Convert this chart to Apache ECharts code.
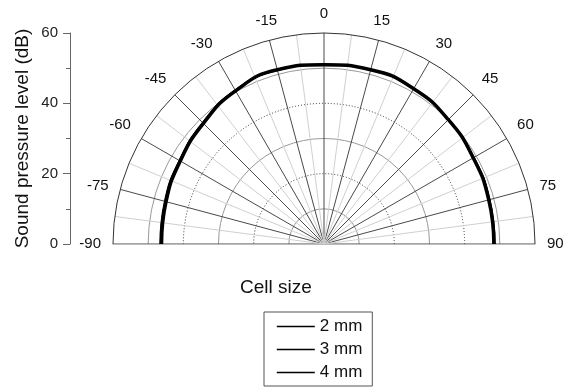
<!DOCTYPE html>
<html>
<head>
<meta charset="utf-8">
<script src="https://cdn.jsdelivr.net/npm/echarts@6/dist/echarts.min.js"></script>
<style>html,body{margin:0;padding:0;background:#fff}#c{width:566px;height:387px}</style>
</head>
<body>
<div id="c"></div>
<script>
var angles = [-90, -75, -60, -45, -30, -15, 0, 15, 30, 45, 60, 75, 90];
var angleTicks = ['-90','-75','-60','-45','-30','-15','0','15','30','45','60','75','90'];
var yTicks = [0, 20, 40, 60];
var seriesNames = ['2 mm', '3 mm', '4 mm'];
var spl2mm = [46.6, 46.9, 47.5, 48.8, 50.5, 51.2, 51.0, 51.2, 50.9, 50.1, 49.2, 48.8, 48.6];
var spl3mm = [46.4, 46.7, 47.3, 48.6, 50.4, 51.2, 51.0, 51.3, 51.0, 50.0, 49.1, 48.6, 48.4];
var spl4mm = [46.2, 46.5, 47.2, 48.5, 50.3, 51.3, 51.0, 51.3, 51.0, 50.0, 49.0, 48.5, 48.3];

function pairs(vals) { return vals.map(function (v, i) { return [v, angles[i]]; }); }

var FONT = 'Liberation Sans';
var chart = echarts.init(document.getElementById('c'), null, {renderer: 'canvas'});
var T = 'rgba(0,0,0,0)';
chart.setOption({
  animation: false,
  backgroundColor: '#fff',
  textStyle: {fontFamily: FONT},
  title: {text: 'Cell size', left: 240, top: 278, padding: 0, textStyle: {fontFamily: FONT, fontSize: 19, fontWeight: 'normal', color: '#111'}},
  legend: {
    orient: 'vertical', left: 264, top: 312,
    borderColor: '#555', borderWidth: 1, padding: [6, 10, 5, 12],
    itemWidth: 38, itemHeight: 14, itemGap: 6,
    itemStyle: {opacity: 0, color: T, borderWidth: 0},
    lineStyle: {width: 1.6, color: '#000'},
    textStyle: {fontFamily: FONT, fontSize: 17, lineHeight: 17, color: '#111'},
    data: seriesNames
  },
  grid: {left: 70, top: 33, width: 10, height: 211},
  xAxis: {type: 'value', show: false},
  yAxis: {
    type: 'value', min: yTicks[0], max: yTicks[yTicks.length - 1], interval: 20,
    name: 'Sound pressure level (dB)', nameLocation: 'middle', nameGap: 38,
    nameTextStyle: {fontFamily: FONT, fontSize: 19, color: '#111'},
    axisLine: {show: true, lineStyle: {color: '#666'}},
    axisTick: {show: true, length: 7, lineStyle: {color: '#666'}},
    minorTick: {show: true, splitNumber: 2, length: 4, lineStyle: {color: '#666'}},
    splitLine: {show: false},
    axisLabel: {fontFamily: FONT, fontSize: 15, color: '#222', margin: 12}
  },
  polar: [
    {center: [324, 244], radius: 211},
    {center: [324, 244], radius: 211}
  ],
  angleAxis: [
    {
      polarIndex: 0, type: 'value', min: -90, max: 90, interval: 15,
      startAngle: 180, endAngle: 0, clockwise: true,
      axisLine: {show: true, lineStyle: {color: '#333', width: 1}},
      axisTick: {show: false},
      minorTick: {show: false, splitNumber: 2},
      axisLabel: {show: true, margin: 12, fontFamily: FONT, fontSize: 15, color: '#111',
        formatter: function (v) { var i = angles.indexOf(v); return i >= 0 ? angleTicks[i] : ''; }},
      splitLine: {show: true, lineStyle: {color: '#4a4a4a', width: 1}},
      minorSplitLine: {show: true, lineStyle: {color: '#d0d0d0', width: 1}}
    },
    {
      polarIndex: 1, type: 'value', min: -90, max: 90, interval: 15,
      startAngle: 0, endAngle: 180, clockwise: false,
      axisLine: {show: false}, axisTick: {show: false}, axisLabel: {show: false},
      splitLine: {show: false}
    }
  ],
  radiusAxis: [
    {
      polarIndex: 0, type: 'value', min: 0, max: 60, interval: 10,
      axisLine: {show: true, lineStyle: {color: '#bbb'}},
      axisTick: {show: false}, axisLabel: {show: false},
      splitLine: {show: true, lineStyle: {color: [T, '#999', T, '#999', T, '#999', T], width: 1}}
    },
    {
      polarIndex: 1, type: 'value', min: 0, max: 60, interval: 20,
      axisLine: {show: true, lineStyle: {color: '#bbb'}},
      axisTick: {show: false}, axisLabel: {show: false},
      splitLine: {show: true, lineStyle: {color: [T, '#333', '#333', T], width: 1, type: [1, 2]}}
    }
  ],
  series: [
    {name: seriesNames[0], type: 'line', coordinateSystem: 'polar', polarIndex: 0, data: pairs(spl2mm), smooth: true, symbol: 'none', lineStyle: {color: '#000', width: 1.6}, itemStyle: {color: '#000'}, z: 5},
    {name: seriesNames[1], type: 'line', coordinateSystem: 'polar', polarIndex: 0, data: pairs(spl3mm), smooth: true, symbol: 'none', lineStyle: {color: '#000', width: 2}, itemStyle: {color: '#000'}, z: 5},
    {name: seriesNames[2], type: 'line', coordinateSystem: 'polar', polarIndex: 0, data: pairs(spl4mm), smooth: true, symbol: 'none', lineStyle: {color: '#000', width: 3.5}, itemStyle: {color: '#000'}, z: 5}
  ]
});
</script>
</body>
</html>
